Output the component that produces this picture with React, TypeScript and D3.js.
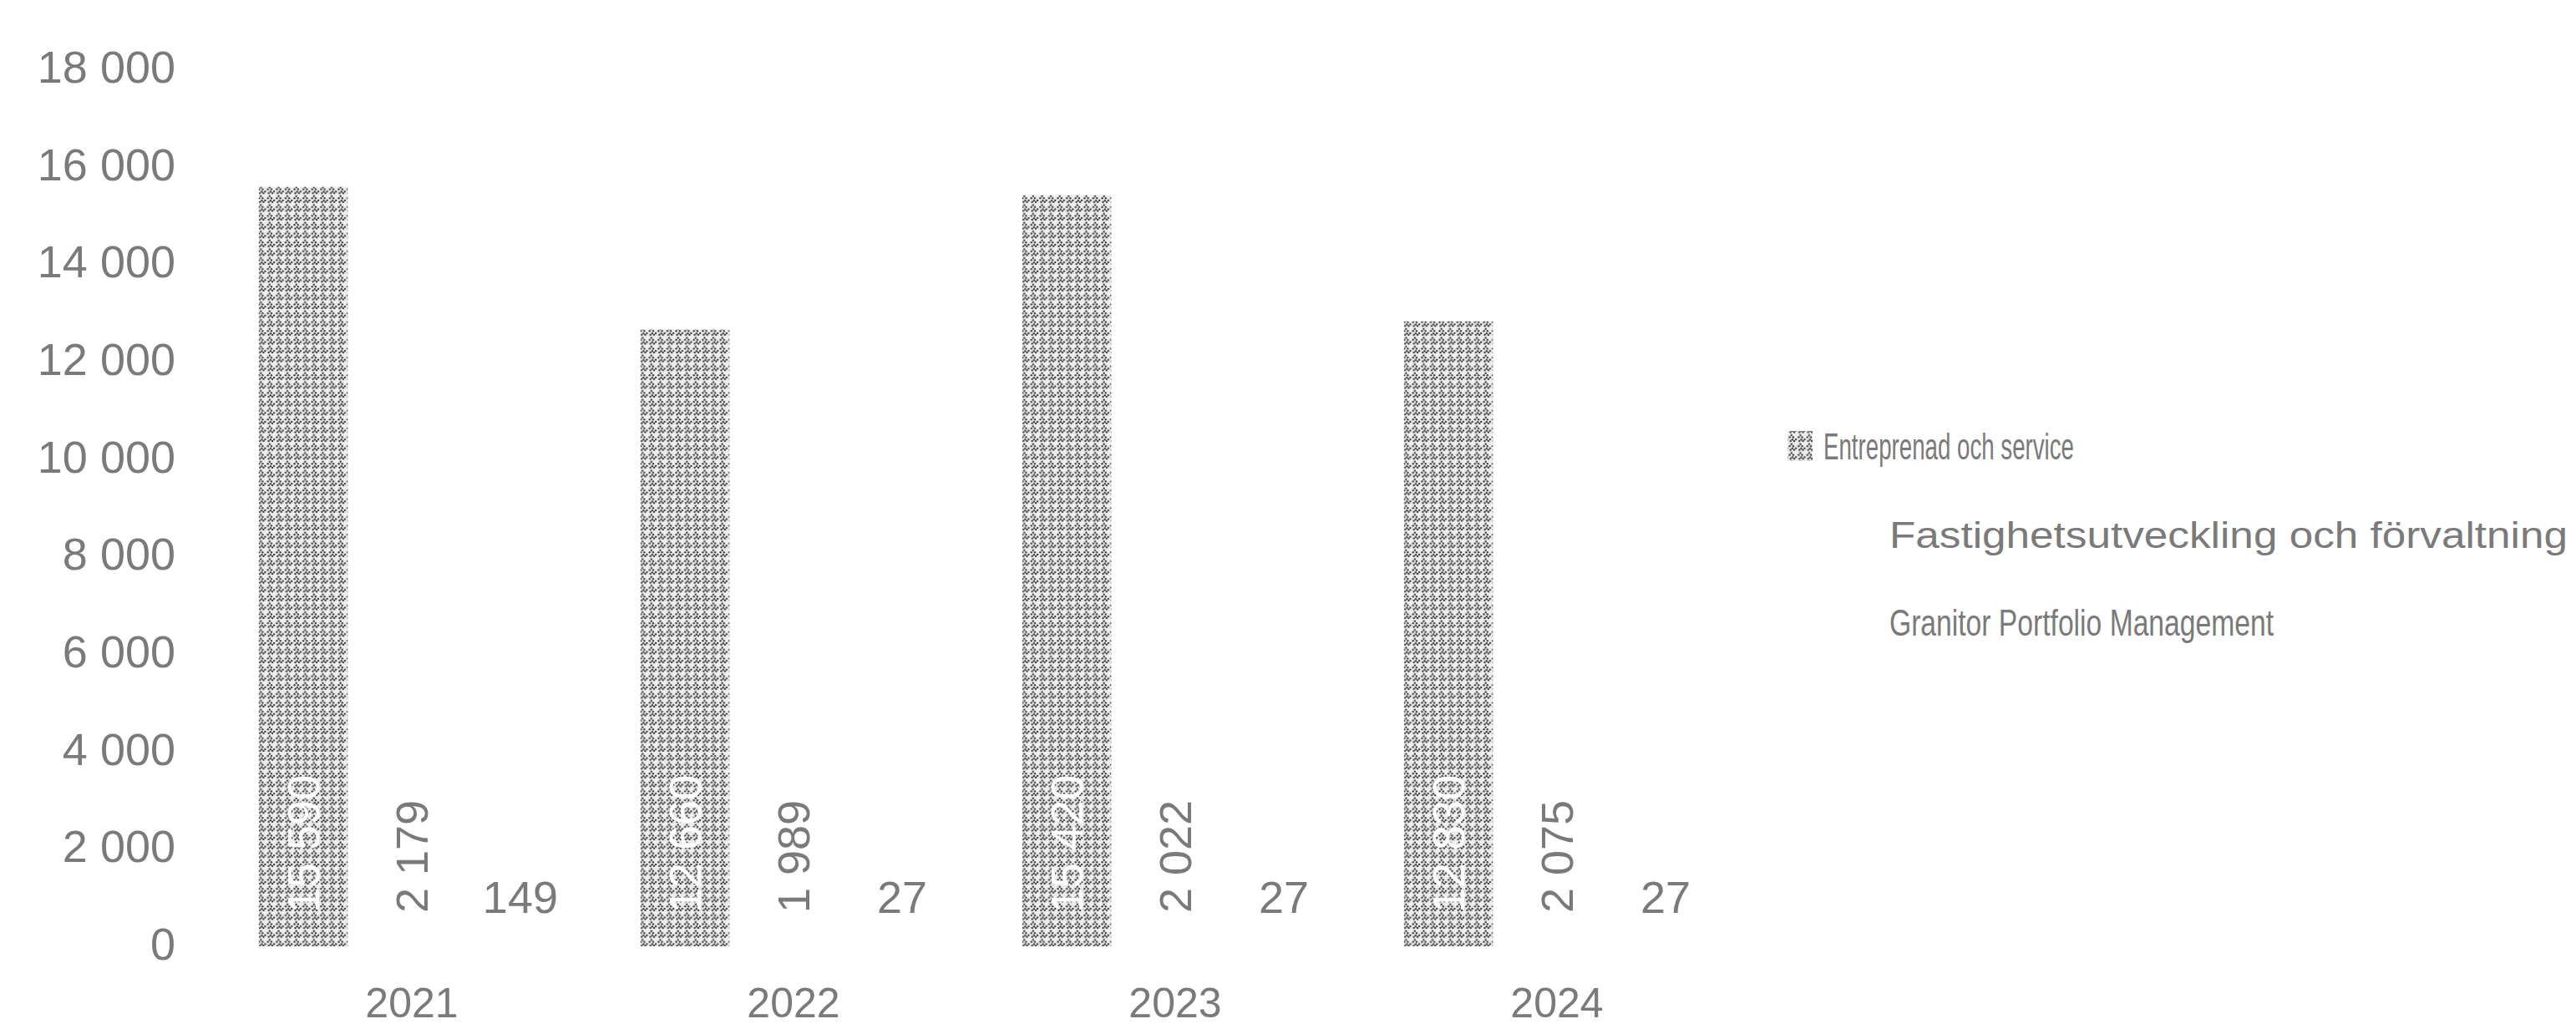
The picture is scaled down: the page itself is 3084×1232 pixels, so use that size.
import React from "react";
import * as d3 from "d3";

const years = ["2021", "2022", "2023", "2024"];
const seriesNames = [
  "Entreprenad och service",
  "Fastighetsutveckling och förvaltning",
  "Granitor Portfolio Management",
];
const entreprenad = [15590, 12660, 15420, 12830];
const fastighet = [2179, 1989, 2022, 2075];
const granitor = [149, 27, 27, 27];
const yTicks = [0, 2000, 4000, 6000, 8000, 10000, 12000, 14000, 16000, 18000];

const W = 3084;
const H = 1232;
const FONT = "'Liberation Sans', Arial, sans-serif";
const TEXT = "#7a7a7a";

const locale = d3.formatLocale({
  decimal: ",",
  thousands: " ",
  grouping: [3],
  currency: ["", " kr"],
});
const fmt = locale.format(",d");

export default function App() {
  const series = [entreprenad, fastighet, granitor];
  const y = d3.scaleLinear().domain([0, 18000]).range([1133, 83]);
  const x0 = d3
    .scaleBand<string>()
    .domain(years)
    .range([264.5, 264.5 + 457 * 4])
    .paddingInner(0.147)
    .paddingOuter(0.0735);
  const x1 = d3
    .scaleBand<number>()
    .domain([0, 1, 2])
    .range([0, x0.bandwidth()])
    .paddingInner(0.18)
    .paddingOuter(0.09);

  const fills = ["url(#pat)", "#ffffff", "#ffffff"];
  const labelBase = y(0) - 40;
  const legendRows = [
    { y: 535, x: 2183, len: 300 },
    { y: 641, x: 2262, len: 812 },
    { y: 746, x: 2262, len: 460 },
  ];

  return (
    <svg width={W} height={H} style={{ display: "block", position: "absolute", left: 0, top: 0 }}>
      <defs>
        <pattern id="pat" width="10.6" height="10.6" patternUnits="userSpaceOnUse">
          <rect width="10.6" height="10.6" fill="#ededed" />
          <circle cx="1.5" cy="4" r="1.2" fill="#3a3a3a" />
          <circle cx="3.6" cy="1.8" r="1.2" fill="#3a3a3a" />
          <circle cx="5.7" cy="4" r="1.2" fill="#3a3a3a" />
          <circle cx="2.4" cy="8.6" r="1.2" fill="#3a3a3a" />
          <circle cx="4.6" cy="7" r="1.2" fill="#3a3a3a" />
          <circle cx="6.8" cy="8.6" r="1.2" fill="#3a3a3a" />
          <circle cx="8.8" cy="6.8" r="1.2" fill="#3a3a3a" />
        </pattern>
      </defs>
      <rect width={W} height={H} fill="#ffffff" />

      {yTicks.map((t) => (
        <text
          key={t}
          x={210}
          y={y(t) - 3}
          dy="0.35em"
          textAnchor="end"
          fontFamily={FONT}
          fontSize={54}
          fill={TEXT}
        >
          {fmt(t)}
        </text>
      ))}

      {years.map((yr, i) => (
        <g key={yr} transform={`translate(${x0(yr)},0)`}>
          {series.map((s, j) => (
            <rect
              key={j}
              x={x1(j)}
              y={y(s[i])}
              width={x1.bandwidth()}
              height={y(0) - y(s[i])}
              fill={fills[j]}
            />
          ))}
          {[0, 1].map((j) => {
            const cx = (x1(j) as number) + x1.bandwidth() / 2;
            return (
              <text
                key={"l" + j}
                transform={`translate(${cx},${labelBase}) rotate(-90)`}
                dy="0.35em"
                textAnchor="start"
                fontFamily={FONT}
                fontSize={54}
                fill={j === 0 ? "#ffffff" : TEXT}
              >
                {fmt(series[j][i])}
              </text>
            );
          })}
          <text
            x={(x1(2) as number) + x1.bandwidth() / 2}
            y={labelBase}
            textAnchor="middle"
            fontFamily={FONT}
            fontSize={54}
            fill={TEXT}
          >
            {fmt(granitor[i])}
          </text>
          <text
            x={x0.bandwidth() / 2}
            y={1218}
            textAnchor="middle"
            fontFamily={FONT}
            fontSize={50}
            fill={TEXT}
          >
            {yr}
          </text>
        </g>
      ))}

      {seriesNames.map((n, j) => (
        <g key={n}>
          <rect x={2140} y={legendRows[0].y - 19 + j * 106} width={30} height={36} fill={fills[j]} />
          <text
            x={legendRows[j].x}
            y={legendRows[j].y}
            dy="0.35em"
            fontFamily={FONT}
            fontSize={44}
            fill={TEXT}
            textLength={legendRows[j].len}
            lengthAdjust="spacingAndGlyphs"
          >
            {n}
          </text>
        </g>
      ))}
    </svg>
  );
}
